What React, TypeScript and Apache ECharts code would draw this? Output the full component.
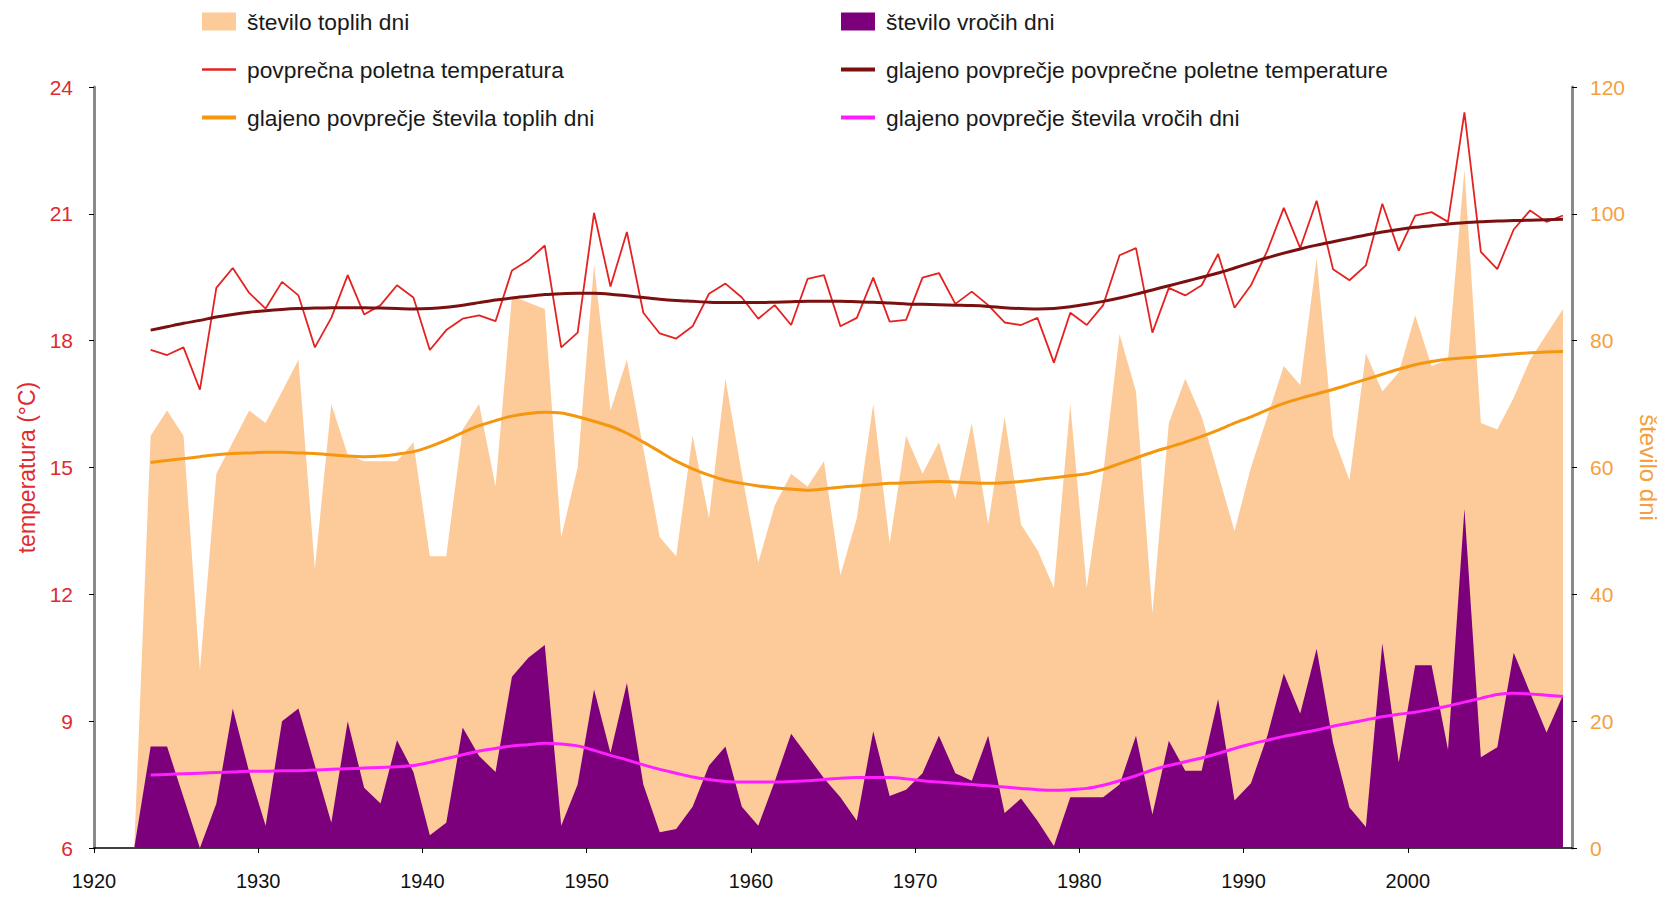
import React, { useEffect, useRef } from "react";
import * as echarts from "echarts";

// Years (1922 is an empty start point for the area series)
const years = [
  1922,
  1923, 1924, 1925, 1926, 1927, 1928, 1929, 1930, 1931, 1932,
  1933, 1934, 1935, 1936, 1937, 1938, 1939, 1940, 1941, 1942,
  1943, 1944, 1945, 1946, 1947, 1948, 1949, 1950, 1951, 1952,
  1953, 1954, 1955, 1956, 1957, 1958, 1959, 1960, 1961, 1962,
  1963, 1964, 1965, 1966, 1967, 1968, 1969, 1970, 1971, 1972,
  1973, 1974, 1975, 1976, 1977, 1978, 1979, 1980, 1981, 1982,
  1983, 1984, 1985, 1986, 1987, 1988, 1989, 1990, 1991, 1992,
  1993, 1994, 1995, 1996, 1997, 1998, 1999, 2000, 2001, 2002,
  2003, 2004, 2005, 2006, 2007, 2008, 2009,
];

// število toplih dni
const warmDays = [
  0,
  65, 69, 65, 28, 59, 64, 69, 67, 72, 77,
  44, 70, 62, 61, 61, 61, 64, 46, 46, 66,
  70, 57, 87, 86, 85, 49, 60, 92, 69, 77,
  63, 49, 46, 65, 52, 74, 59, 45, 54, 59,
  57, 61, 43, 52, 70, 48, 65, 59, 64, 55,
  67, 51, 68, 51, 47, 41, 70, 41, 59, 81,
  72, 37, 67, 74, 68, 59, 50, 60, 68, 76,
  73, 93, 65, 58, 78, 72, 75, 84, 76, 77,
  107, 67, 66, 71, 77, 81, 85,
];

// število vročih dni
const hotDays = [
  0,
  16, 16, 8, 0, 7, 22, 12, 3.5, 20, 22,
  13, 4, 20, 9.5, 7, 17, 12, 2, 4, 19,
  14.5, 12, 27, 30, 32, 3.5, 10, 25, 15, 26,
  10, 2.5, 3, 6.5, 13, 16, 6.5, 3.5, 10.5, 18,
  14.5, 11, 8, 4.3, 18.4, 8.2, 9.2, 11.8, 17.7, 11.8,
  10.6, 17.7, 5.5, 7.8, 4.3, 0.3, 8, 8, 8, 10,
  17.7, 5.3, 16.9, 12.2, 12.2, 23.5, 7.5, 10.2, 17.7, 27.5,
  21.2, 31.4, 16.6, 6.4, 3.3, 32.3, 13.5, 28.8, 28.8, 15.5,
  53.5, 14.3, 15.9, 30.8, 24.5, 18.2, 24.1,
];

// povprečna poletna temperatura (°C)
const temperature = [
  null,
  17.78, 17.66, 17.84, 16.84, 19.25, 19.72, 19.13, 18.76, 19.39, 19.07,
  17.84, 18.54, 19.55, 18.62, 18.84, 19.31, 19.02, 17.78, 18.25, 18.52,
  18.6, 18.46, 19.66, 19.9, 20.25, 17.84, 18.19, 21.02, 19.28, 20.57,
  18.66, 18.17, 18.05, 18.34, 19.11, 19.35, 19.02, 18.52, 18.84, 18.37,
  19.46, 19.55, 18.34, 18.54, 19.49, 18.45, 18.49, 19.49, 19.6, 18.87,
  19.16, 18.84, 18.43, 18.37, 18.54, 17.48, 18.66, 18.37, 18.84, 20.02,
  20.19, 18.19, 19.25, 19.07, 19.31, 20.05, 18.78, 19.31, 20.13, 21.14,
  20.19, 21.31, 19.69, 19.43, 19.78, 21.24, 20.13, 20.96, 21.04, 20.81,
  23.4, 20.1, 19.69, 20.63, 21.08, 20.81, 20.96,
];

// glajeno povprečje povprečne poletne temperature (°C)
const temperatureSmooth = [
  null,
  18.25, 18.33, 18.41, 18.48, 18.56, 18.62, 18.67, 18.71, 18.74, 18.76,
  18.77, 18.78, 18.78, 18.78, 18.77, 18.76, 18.75, 18.76, 18.79, 18.84,
  18.9, 18.96, 19.01, 19.05, 19.09, 19.11, 19.12, 19.12, 19.1, 19.06,
  19.02, 18.98, 18.95, 18.93, 18.91, 18.9, 18.9, 18.9, 18.91, 18.92,
  18.93, 18.93, 18.93, 18.92, 18.91, 18.89, 18.87, 18.86, 18.85, 18.84,
  18.83, 18.81, 18.78, 18.76, 18.75, 18.76, 18.8, 18.86, 18.93, 19.01,
  19.1, 19.2, 19.3, 19.4, 19.5, 19.6, 19.72, 19.84, 19.96, 20.07,
  20.17, 20.26, 20.34, 20.42, 20.5, 20.57, 20.63, 20.68, 20.72, 20.76,
  20.79, 20.81, 20.83, 20.84, 20.85, 20.86, 20.87,
];

// glajeno povprečje števila toplih dni
const warmSmooth = [
  null,
  60.8, 61.1, 61.4, 61.7, 62.0, 62.2, 62.3, 62.4, 62.4, 62.3,
  62.2, 62.0, 61.8, 61.7, 61.8, 62.1, 62.5, 63.3, 64.3, 65.5,
  66.6, 67.4, 68.1, 68.5, 68.7, 68.6, 68.0, 67.3, 66.5, 65.4,
  64.0, 62.5, 61.0, 59.8, 58.8, 58.0, 57.5, 57.1, 56.8, 56.6,
  56.4, 56.6, 56.9, 57.1, 57.3, 57.5, 57.6, 57.7, 57.8, 57.7,
  57.6, 57.5, 57.6, 57.8, 58.1, 58.4, 58.7, 59.0, 59.7, 60.6,
  61.5, 62.4, 63.2, 64.0, 64.9, 65.9, 67.0, 68.0, 69.1, 70.1,
  70.9, 71.6, 72.3, 73.1, 73.9, 74.7, 75.5, 76.2, 76.7, 77.1,
  77.3, 77.5, 77.7, 77.9, 78.1, 78.2, 78.3,
];

// glajeno povprečje števila vročih dni
const hotSmooth = [
  null,
  11.5, 11.6, 11.7, 11.8, 11.9, 12.0, 12.1, 12.1, 12.2, 12.2,
  12.3, 12.4, 12.5, 12.6, 12.7, 12.8, 13.0, 13.5, 14.1, 14.7,
  15.3, 15.7, 16.1, 16.3, 16.5, 16.4, 16.1, 15.4, 14.6, 13.9,
  13.1, 12.4, 11.8, 11.2, 10.8, 10.5, 10.4, 10.4, 10.4, 10.5,
  10.6, 10.8, 11.0, 11.1, 11.1, 11.1, 10.9, 10.6, 10.4, 10.2,
  10.0, 9.8, 9.6, 9.4, 9.2, 9.1, 9.2, 9.4, 9.9, 10.6,
  11.4, 12.3, 13.0, 13.6, 14.2, 14.9, 15.7, 16.4, 17.0, 17.6,
  18.1, 18.6, 19.2, 19.7, 20.2, 20.7, 21.1, 21.4, 21.9, 22.4,
  23.0, 23.6, 24.2, 24.4, 24.3, 24.1, 23.9,
];

const tempTicks = { min: 6, max: 24, interval: 3 };
const dayTicks = { min: 0, max: 120, interval: 20 };
const yearTicks = { min: 1920, max: 2010, interval: 10 };

const names = {
  warm: "število toplih dni",
  hot: "število vročih dni",
  temp: "povprečna poletna temperatura",
  tempSmooth: "glajeno povprečje povprečne poletne temperature",
  warmSmooth: "glajeno povprečje števila toplih dni",
  hotSmooth: "glajeno povprečje števila vročih dni",
};

const FONT = "'Liberation Sans', Arial, sans-serif";
const NARROW = "'Liberation Sans Narrow', 'Arial Narrow', 'Liberation Sans', sans-serif";
const MID_YEAR = 0.45; // values are plotted mid-year

const C = {
  warm: "#FCCB99",
  hot: "#7C007C",
  warmSmooth: "#F5960F",
  hotSmooth: "#FF1EFF",
  temp: "#E52222",
  tempSmooth: "#7A1010",
  tempAxis: "#E02A30",
  dayAxis: "#F4A040",
};

const THIN_LINE_ICON = "path://M0,0 L34,0 L34,2.5 L0,2.5 Z";
const THICK_LINE_ICON = "path://M0,0 L34,0 L34,4 L0,4 Z";

function pairs(vals: (number | null)[]) {
  const out: [number, number][] = [];
  years.forEach((y, i) => {
    const v = vals[i];
    if (v !== null && v !== undefined) out.push([y + MID_YEAR, v]);
  });
  return out;
}

export default function App() {
  const ref = useRef<HTMLDivElement>(null);

  useEffect(() => {
    if (!ref.current) return;
    const chart = echarts.init(ref.current, null, { renderer: "svg" });
    const legendCommon = {
      orient: "vertical",
      padding: 0,
      itemGap: 25,
      itemWidth: 34,
      itemHeight: 18,
      symbolKeepAspect: true,
      selectedMode: false,
      textStyle: {
        fontSize: 22.8,
        color: "#1a1a1a",
        fontFamily: FONT,
        lineHeight: 22,
        padding: [0, 0, 0, 6],
      },
    };
    chart.setOption({
      animation: false,
      backgroundColor: "#ffffff",
      textStyle: { fontFamily: FONT },
      grid: { left: 94, right: 96, top: 87, bottom: 49, containLabel: false },
      legend: [
        {
          ...legendCommon,
          left: 202,
          top: 10,
          data: [
            { name: names.warm, icon: "rect" },
            { name: names.temp, icon: THIN_LINE_ICON },
            { name: names.warmSmooth, icon: THICK_LINE_ICON },
          ],
        },
        {
          ...legendCommon,
          left: 841,
          top: 10,
          data: [
            { name: names.hot, icon: "rect" },
            { name: names.tempSmooth, icon: THICK_LINE_ICON },
            { name: names.hotSmooth, icon: THICK_LINE_ICON },
          ],
        },
      ],
      xAxis: {
        type: "value",
        ...yearTicks,
        axisLine: { show: true, lineStyle: { color: "#000", width: 1.5 } },
        axisTick: { show: true, length: 5, lineStyle: { color: "#000" } },
        axisLabel: {
          color: "#111",
          fontSize: 20,
          fontFamily: NARROW,
          margin: 23,
          showMaxLabel: false,
          formatter: (v: number) => String(v),
        },
        splitLine: { show: false },
      },
      yAxis: [
        {
          type: "value",
          position: "left",
          ...tempTicks,
          name: "temperatura (°C)",
          nameLocation: "middle",
          nameGap: 56,
          nameRotate: 90,
          nameTextStyle: { color: C.tempAxis, fontSize: 23, fontFamily: FONT },
          axisLine: { show: true, lineStyle: { color: "#8a8a8a", width: 3 } },
          axisTick: { show: true, length: 5, lineStyle: { color: "#000" } },
          axisLabel: { color: C.tempAxis, fontSize: 21, fontFamily: FONT, margin: 21 },
          splitLine: { show: false },
        },
        {
          type: "value",
          position: "right",
          ...dayTicks,
          name: "število dni",
          nameLocation: "middle",
          nameGap: 64,
          nameRotate: -90,
          nameTextStyle: { color: C.dayAxis, fontSize: 24, fontFamily: FONT },
          axisLine: { show: true, lineStyle: { color: "#8a8a8a", width: 3 } },
          axisTick: { show: true, length: 5, lineStyle: { color: "#000" } },
          axisLabel: { color: C.dayAxis, fontSize: 21, fontFamily: FONT, margin: 18 },
          splitLine: { show: false },
        },
      ],
      series: [
        {
          name: names.warm,
          type: "line",
          yAxisIndex: 1,
          data: pairs(warmDays),
          symbol: "none",
          lineStyle: { width: 0, color: C.warm },
          itemStyle: { color: C.warm },
          areaStyle: { color: C.warm, opacity: 1 },
          emphasis: { disabled: true },
          z: 1,
        },
        {
          name: names.hot,
          type: "line",
          yAxisIndex: 1,
          data: pairs(hotDays),
          symbol: "none",
          lineStyle: { width: 0, color: C.hot },
          itemStyle: { color: C.hot },
          areaStyle: { color: C.hot, opacity: 1 },
          emphasis: { disabled: true },
          z: 2,
        },
        {
          name: names.warmSmooth,
          type: "line",
          yAxisIndex: 1,
          data: pairs(warmSmooth),
          symbol: "none",
          smooth: 0.3,
          lineStyle: { width: 3, color: C.warmSmooth },
          itemStyle: { color: C.warmSmooth },
          emphasis: { disabled: true },
          z: 3,
        },
        {
          name: names.hotSmooth,
          type: "line",
          yAxisIndex: 1,
          data: pairs(hotSmooth),
          symbol: "none",
          smooth: 0.3,
          lineStyle: { width: 3, color: C.hotSmooth },
          itemStyle: { color: C.hotSmooth },
          emphasis: { disabled: true },
          z: 3,
        },
        {
          name: names.temp,
          type: "line",
          yAxisIndex: 0,
          data: pairs(temperature),
          symbol: "none",
          lineStyle: { width: 1.8, color: C.temp },
          itemStyle: { color: C.temp },
          emphasis: { disabled: true },
          z: 4,
        },
        {
          name: names.tempSmooth,
          type: "line",
          yAxisIndex: 0,
          data: pairs(temperatureSmooth),
          symbol: "none",
          smooth: 0.3,
          lineStyle: { width: 3, color: C.tempSmooth },
          itemStyle: { color: C.tempSmooth },
          emphasis: { disabled: true },
          z: 5,
        },
      ],
    });
    return () => chart.dispose();
  }, []);

  return (
    <div
      ref={ref}
      style={{ position: "fixed", left: 0, top: 0, width: 1668, height: 897, background: "#fff" }}
    />
  );
}
